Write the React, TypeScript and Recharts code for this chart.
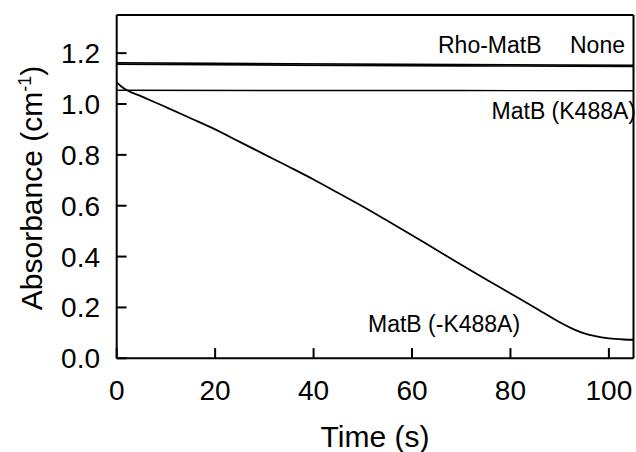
import { LineChart, Line, XAxis, YAxis, ReferenceLine } from "recharts";

// Decay trace, MatB (-K488A)
const decayTime = [0, 1, 2, 5, 10, 15, 20, 25, 30, 35, 40, 45, 50, 55, 60, 65, 70, 75, 80, 85, 90, 93, 95, 97, 100, 103, 105];
const decayAbs = [1.085, 1.068, 1.055, 1.03, 0.988, 0.944, 0.9, 0.851, 0.802, 0.753, 0.703, 0.65, 0.597, 0.541, 0.484, 0.426, 0.368, 0.311, 0.255, 0.199, 0.142, 0.113, 0.098, 0.088, 0.078, 0.074, 0.073];

// Flat controls
const flatTime = [0, 35, 70, 105];
const noneAbs = [1.162, 1.158, 1.155, 1.152];
const rhoAbs = [1.157, 1.153, 1.15, 1.148];
const k488aAbs = [1.054, 1.053, 1.053, 1.052];

const xTicks = [0, 20, 40, 60, 80, 100];
const yTicks = [0, 0.2, 0.4, 0.6, 0.8, 1.0, 1.2];

const X_MAX = 105;
const Y_MAX = 1.35;
// inward tick length (~10px) in data units
const xTickLen = 0.04;
const yTickLen = 2.0;

const toPoints = (ts: number[], vs: number[]) => ts.map((t, i) => ({ t, v: vs[i] }));

const decayData = toPoints(decayTime, decayAbs);
const noneData = toPoints(flatTime, noneAbs);
const rhoData = toPoints(flatTime, rhoAbs);
const k488aData = toPoints(flatTime, k488aAbs);

const font = "'Liberation Sans', Arial, sans-serif";
const tickStyle = { fontSize: 28, fill: "#000", fontFamily: font };

export default function App() {
  return (
    <div>
      <style>{"body{margin:0}"}</style>
      <LineChart
        width={636}
        height={452}
        margin={{ top: 15, right: 2.5, bottom: 0, left: 0 }}
        style={{ fontFamily: font }}
      >
        <XAxis
          type="number"
          dataKey="t"
          domain={[0, X_MAX]}
          ticks={xTicks}
          height={93.7}
          tick={tickStyle}
          tickSize={0}
          tickMargin={22}
          tickLine={false}
          axisLine={{ stroke: "#000", strokeWidth: 2 }}
          interval={0}
          allowDataOverflow
        />
        <YAxis
          type="number"
          dataKey="v"
          domain={[0, Y_MAX]}
          ticks={yTicks}
          width={116.7}
          tick={tickStyle}
          tickFormatter={(v: number) => v.toFixed(1)}
          tickSize={0}
          tickMargin={16.7}
          tickLine={false}
          axisLine={{ stroke: "#000", strokeWidth: 2 }}
          interval={0}
          allowDataOverflow
        />
        <ReferenceLine y={Y_MAX} stroke="#000" strokeWidth={2} />
        <ReferenceLine x={X_MAX} stroke="#000" strokeWidth={2} />

        <Line data={noneData} dataKey="v" type="linear" stroke="#000" strokeWidth={1.6} dot={false} isAnimationActive={false} />
        <Line data={rhoData} dataKey="v" type="linear" stroke="#000" strokeWidth={1.6} dot={false} isAnimationActive={false} />
        <Line data={k488aData} dataKey="v" type="linear" stroke="#000" strokeWidth={1.4} dot={false} isAnimationActive={false} />
        <Line data={decayData} dataKey="v" type="monotone" stroke="#000" strokeWidth={1.8} dot={false} isAnimationActive={false} />

        {xTicks.map((t) => (
          <ReferenceLine
            key={"xt" + t}
            segment={[{ x: t, y: 0 }, { x: t, y: xTickLen }]}
            stroke="#000"
            strokeWidth={2}
            ifOverflow="visible"
          />
        ))}
        {yTicks.map((v) => (
          <ReferenceLine
            key={"yt" + v}
            segment={[{ x: 0, y: v }, { x: yTickLen, y: v }]}
            stroke="#000"
            strokeWidth={2}
            ifOverflow="visible"
          />
        ))}

        <text x={438} y={53} fontSize={23} fill="#000">Rho-MatB</text>
        <text x={570} y={53} fontSize={23} fill="#000">None</text>
        <text x={636} y={119} fontSize={23} fill="#000" textAnchor="end">MatB (K488A)</text>
        <text x={368} y={332} fontSize={23} fill="#000">MatB (-K488A)</text>

        <text x={375} y={447} fontSize={30} fill="#000" textAnchor="middle">Time (s)</text>
        <text transform="rotate(-90)" x={-188} y={41.7} fontSize={30} fill="#000" textAnchor="middle">
          Absorbance (cm<tspan dy={-11} fontSize={18}>-1</tspan><tspan dy={11}>)</tspan>
        </text>
      </LineChart>
    </div>
  );
}
